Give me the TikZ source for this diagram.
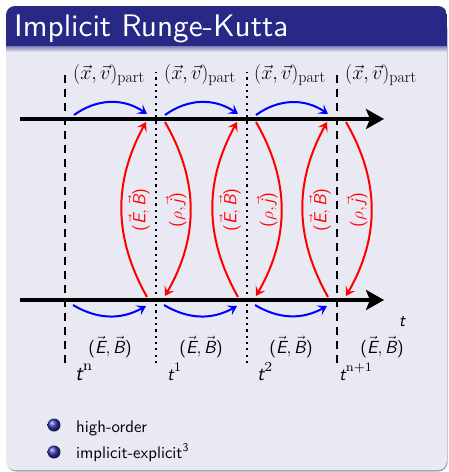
\documentclass[tikz,border=0pt]{standalone}
\usepackage{graphicx}
\usepackage{fix-cm}
\usepackage{fontspec}
\setsansfont{lmsans10-regular.otf}[BoldFont=lmsans10-bold.otf,ItalicFont=lmsans10-oblique.otf,SlantedFont=lmsans10-oblique.otf]
\usetikzlibrary{arrows.meta}
\definecolor{titlebg}{RGB}{40,40,135}
\definecolor{bodybg}{RGB}{233,233,243}
\definecolor{ballc}{RGB}{51,51,178}
\DeclareMathSizes{17.5}{17.5}{13}{10}
\DeclareMathSizes{20}{20}{14.5}{11}
\newcommand{\sv}[1]{\vec{\mbox{\sffamily\itshape #1}}}
\newcommand{\sit}[1]{\mbox{\sffamily\itshape #1}}
\newcommand{\spar}[1]{\mbox{\sffamily#1}}
\newcommand{\subp}{\mbox{\fontsize{16}{16}\selectfont\rmfamily part}}
\newcommand{\tlab}[2]{\resizebox{#1}{!}{\sffamily\itshape t\raisebox{0.45em}{\scriptsize\upshape\rmfamily #2}}}
\tikzset{
  axis/.style={line width=4.5pt,-{Stealth[length=18pt,width=20pt,inset=4pt]}},
  vdash/.style={line width=2.2pt,dash pattern=on 8pt off 6pt},
  vdot/.style={line width=2.6pt,dash pattern=on 2.2pt off 4.1pt},
  bluearr/.style={draw=blue,line width=2pt,-{Stealth[length=9pt,width=11pt,inset=4pt]}},
  redarr/.style={draw=red,line width=2pt,-{Stealth[length=9pt,width=11pt,inset=4pt]}},
  toplab/.style={font=\fontsize{20}{24}\selectfont,anchor=base},
  lab/.style={font=\fontsize{17.5}{21}\selectfont\sffamily,anchor=base},
  tl/.style={anchor=base west,inner sep=0pt},
  redlab/.style={font=\fontsize{17.5}{21}\selectfont\sffamily,text=red,rotate=90},
  bul/.style={anchor=base west,inner sep=0pt}
}
\begin{document}
\begin{tikzpicture}[x=1pt,y=-1pt]
\useasboundingbox (0,0) rectangle (449,472);
% frame
\fill[black!35,rounded corners=9pt] (7,20) rectangle (447.5,471.5);
\begin{scope}
\clip[rounded corners=9pt] (6,6) rectangle (447,470);
\fill[bodybg] (6,6) rectangle (447,470);
\fill[titlebg] (6,6) rectangle (447,46);
\shade[top color=titlebg!55!bodybg,bottom color=bodybg] (6,46) rectangle (447,52);
\end{scope}
\node[anchor=base west,text=white,inner sep=0pt] (title) at (14,36.5) {\resizebox{274pt}{!}{\sffamily Implicit Runge-Kutta}};
% vertical time lines
\foreach \i/\x/\s in {0/65/vdash,1/156/vdot,2/247/vdot,3/337/vdash}{
  \coordinate (vb\i) at (\x,363);
  \coordinate (vt\i) at (\x,72);
  \draw[\s] (vb\i) -- (vt\i);
}
% axes
\coordinate (ua) at (20,119); \coordinate (ub) at (384,119);
\coordinate (la) at (20,300); \coordinate (lb) at (384,300);
\draw[axis] (ua) -- (ub);
\draw[axis] (la) -- (lb);
% blue arrows
\foreach \i/\a/\b in {0/65/156,1/156/247,2/247/337}{
  \coordinate (bts\i) at (\a+9,115);
  \coordinate (bte\i) at (\b-9,114);
  \coordinate (bbs\i) at (\a+8,305);
  \coordinate (bbe\i) at (\b-10,306);
  \draw[bluearr] (bts\i) to[bend left=35] (bte\i);
  \draw[bluearr] (bbs\i) to[bend right=30] (bbe\i);
}
% red arrows
\foreach \i/\x in {1/156,2/247,3/337}{
  \coordinate (rls\i) at (\x-9,297);
  \coordinate (rle\i) at (\x-10,122);
  \coordinate (rrs\i) at (\x+9,122);
  \coordinate (rre\i) at (\x+9,296);
  \draw[redarr] (rls\i) to[bend left=29] (rle\i);
  \draw[redarr] (rrs\i) to[bend left=30] (rre\i);
  \node[redlab] (eb\i) at (\x-17,210) {\spar{(}$\sv{E},\sv{B}$\spar{)}};
  \node[redlab] (rj\i) at (\x+20,210) {\spar{(}$\rho,\sv{j}$\spar{)}};
}
% top labels
\foreach \i/\x in {0/109,1/200,2/290,3/381}{
  \node[toplab] (xv\i) at (\x,79) {$(\vec{x},\vec{v})_{\subp}$};
  \node[lab] (fe\i) at (\x+1,353) {\spar{(}$\sv{E},\sv{B}$\spar{)}};
}
% time labels
\node[tl] (tn) at (75,380) {\tlab{17pt}{n}};
\node[tl] (t1) at (167,380) {\tlab{14pt}{1}};
\node[tl] (t2) at (257,380) {\tlab{15pt}{2}};
\node[tl] (tn1) at (339,380) {\tlab{33pt}{n+1}};
\node[lab] (tt) at (402,326) {$\sit{t}$};
% bullets
\shade[ball color=ballc] (54,425) circle (6.5);
\shade[ball color=ballc] (54,452) circle (6.5);
\node[bul] (b1) at (76,432) {\resizebox{71pt}{!}{\sffamily high-order}};
\node[bul] (b2) at (76,458) {\resizebox{113pt}{!}{\sffamily implicit-explicit\textsuperscript{3}}};
\end{tikzpicture}
\end{document}
